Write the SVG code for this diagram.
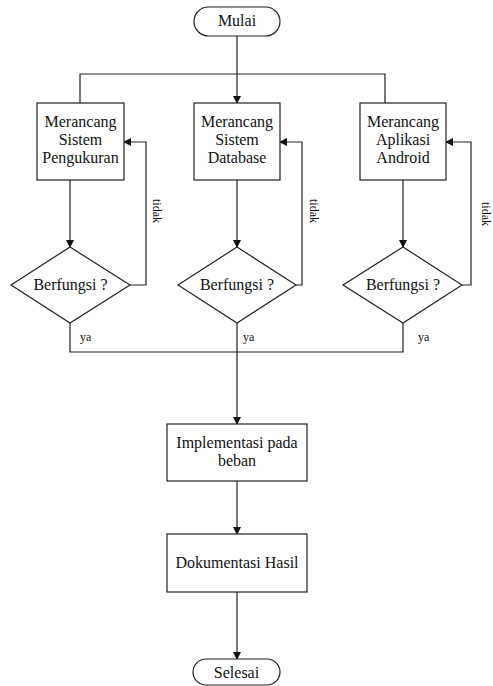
<svg xmlns="http://www.w3.org/2000/svg" width="493" height="686" viewBox="0 0 493 686">
<style>
.s{fill:#fff;stroke:#222;stroke-width:1.2}
.l{fill:none;stroke:#222;stroke-width:1.2}
.t{font-family:"Liberation Serif","Times New Roman",serif;font-size:16px;fill:#111;text-anchor:middle}
.sm{font-family:"Liberation Serif","Times New Roman",serif;font-size:12px;fill:#111}
</style>
<defs>
<marker id="a" markerWidth="8" markerHeight="8" refX="7" refY="4" orient="auto" markerUnits="userSpaceOnUse">
<path d="M0,0 L8,4 L0,8 Z" fill="#111"/>
</marker>
</defs>
<g id="connectors">
<path class="l" d="M237,36 V103" marker-end="url(#a)"/>
<path class="l" d="M80,103 V74 H385 V103"/>
<path class="l" d="M70,180 V247" marker-end="url(#a)"/>
<path class="l" d="M237,180 V247" marker-end="url(#a)"/>
<path class="l" d="M403,180 V247" marker-end="url(#a)"/>
<path class="l" d="M130,285 H146 V142 H124" marker-end="url(#a)"/>
<path class="l" d="M296,285 H302 V142 H280" marker-end="url(#a)"/>
<path class="l" d="M462,285 H471 V142 H446" marker-end="url(#a)"/>
<path class="l" d="M70,323 V352 H403 V323"/>
<path class="l" d="M237,323 V424" marker-end="url(#a)"/>
<path class="l" d="M237,481 V534" marker-end="url(#a)"/>
<path class="l" d="M237,592 V659" marker-end="url(#a)"/>
<text class="sm" transform="translate(153,211) rotate(90)" text-anchor="middle">tidak</text>
<text class="sm" transform="translate(310,211) rotate(90)" text-anchor="middle">tidak</text>
<text class="sm" transform="translate(482,214) rotate(90)" text-anchor="middle">tidak</text>
<text class="sm" x="80" y="341">ya</text>
<text class="sm" x="243" y="341">ya</text>
<text class="sm" x="418" y="341">ya</text>
</g>
<g id="mulai">
<rect class="s" x="194" y="7" width="86" height="29" rx="14.5"/>
<text class="t" x="237" y="26">Mulai</text>
</g>
<g id="box1">
<rect class="s" x="37" y="103" width="87" height="77"/>
<text class="t" x="80.5" y="127">Merancang</text>
<text class="t" x="80.5" y="145">Sistem</text>
<text class="t" x="80.5" y="163">Pengukuran</text>
</g>
<g id="box2">
<rect class="s" x="194" y="103" width="86" height="77"/>
<text class="t" x="237" y="127">Merancang</text>
<text class="t" x="237" y="145">Sistem</text>
<text class="t" x="237" y="163">Database</text>
</g>
<g id="box3">
<rect class="s" x="360" y="103" width="86" height="77"/>
<text class="t" x="403" y="127">Merancang</text>
<text class="t" x="403" y="145">Aplikasi</text>
<text class="t" x="403" y="163">Android</text>
</g>
<g id="dec1">
<path class="s" d="M70,247 L130,285 L70,323 L11,285 Z"/>
<text class="t" x="70.5" y="290">Berfungsi ?</text>
</g>
<g id="dec2">
<path class="s" d="M237,247 L296,285 L237,323 L178,285 Z"/>
<text class="t" x="237" y="290">Berfungsi ?</text>
</g>
<g id="dec3">
<path class="s" d="M403,247 L462,285 L403,323 L343,285 Z"/>
<text class="t" x="403" y="290">Berfungsi ?</text>
</g>
<g id="implementasi">
<rect class="s" x="167" y="424" width="140" height="57"/>
<text class="t" x="237" y="448">Implementasi pada</text>
<text class="t" x="237" y="466">beban</text>
</g>
<g id="dokumentasi">
<rect class="s" x="167" y="534" width="140" height="58"/>
<text class="t" x="237" y="568">Dokumentasi Hasil</text>
</g>
<g id="selesai">
<rect class="s" x="193" y="659" width="87" height="26" rx="13"/>
<text class="t" x="236.5" y="678">Selesai</text>
</g>
</svg>
